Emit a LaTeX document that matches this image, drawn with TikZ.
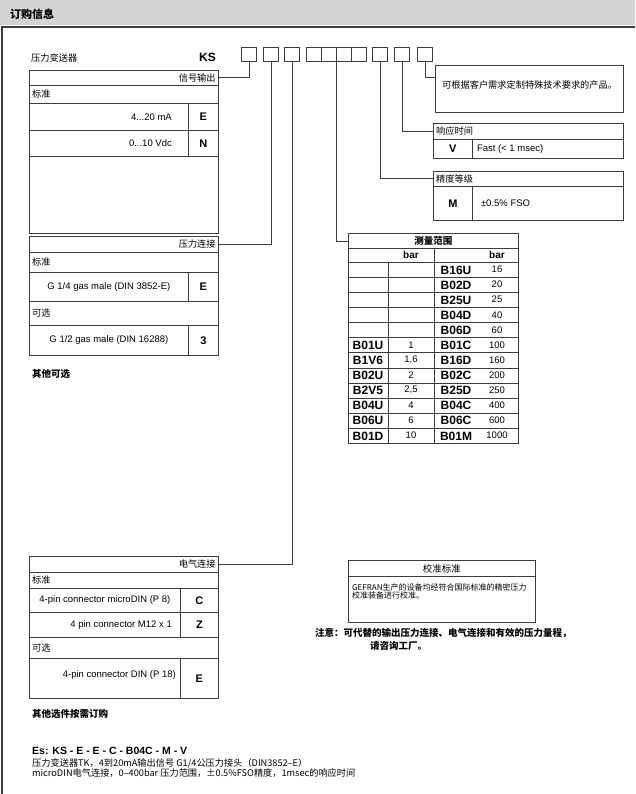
\documentclass[tikz,border=0pt]{standalone}
\usepackage{fontspec}
\setmainfont{Liberation Sans}
\newfontfamily\cjk{Noto Sans CJK SC}
\usetikzlibrary{positioning}
\definecolor{ln}{HTML}{3C3C3C}
\definecolor{hdr}{HTML}{D4D4D4}

\begin{document}
\begin{tikzpicture}[
  x=1pt, y=-1pt,
  row/.style 2 args={draw=ln, line width=0.8pt, anchor=north west, inner sep=0pt,
    minimum width=#1pt, minimum height=#2pt},
  digit/.style={row={15}{14}},
  cn/.style={font=\cjk\fontsize{9.2}{11}\selectfont, inner sep=0pt},
  cns/.style={font=\cjk\fontsize{8}{8.6}\selectfont, inner sep=0pt, align=left},
  cnb/.style={font=\cjk\bfseries\fontsize{9.5}{11}\selectfont, inner sep=0pt},
  en/.style={font=\fontsize{9.5}{11}\selectfont, inner sep=0pt},
  enb/.style={font=\bfseries\fontsize{10}{12}\selectfont, inner sep=0pt},
  code/.style={font=\bfseries\fontsize{11}{13}\selectfont},
  wire/.style={draw=ln, line width=0.8pt}
]
\useasboundingbox (0,0) rectangle (635,794);
% header and frame
\fill[hdr] (0,0) rectangle (635,25);
\node[cnb, font=\cjk\bfseries\fontsize{11}{13}\selectfont, anchor=west] (title) at (10,14) {订购信息};
\draw[ln, line width=1.4pt] (635,27) -- (2,27) -- (2,794);

% order code
\node[cn, anchor=west] (kind) at (31,58) {压力变送器};
\node[font=\bfseries\fontsize{12}{14}\selectfont, anchor=west, inner sep=0pt] (ks) at (199,57) {KS};
\foreach \x [count=\i] in {241,263,284,306,321,336,351,372,394,417}
  \node[digit] (b\i) at (\x,47) {};

% signal output
\node[row={189}{15}] (sigT) at (29,70) {};
\node[cn, anchor=east] at ([xshift=-3pt]sigT.east) {信号输出};
\node[row={189}{18}] (sigS) at (29,85) {};
\node[cn, anchor=west] at ([xshift=3pt]sigS.west) {标准};
\node[row={159}{27}] (sigE) at (29,103) {};
\node[row={30}{27}, code] (sigEc) at (188,103) {E};
\node[en, left=16pt of sigEc] {4...20 mA};
\node[row={159}{26}] (sigN) at (29,130) {};
\node[row={30}{26}, code] (sigNc) at (188,130) {N};
\node[en, left=16pt of sigNc] {0...10 Vdc};
\node[row={189}{77}] (sigX) at (29,156) {};

% pressure port
\node[row={189}{16}] (prsT) at (29,236) {};
\node[cn, anchor=east] at ([xshift=-3pt]prsT.east) {压力连接};
\node[row={189}{20}] (prsS) at (29,252) {};
\node[cn, anchor=west] at ([xshift=3pt]prsS.west) {标准};
\node[row={159}{29}, en] (prsE) at (29,272) {G 1/4 gas male (DIN 3852-E)};
\node[row={30}{29}, code] (prsEc) at (188,272) {E};
\node[row={189}{24}] (prsO) at (29,301) {};
\node[cn, anchor=west] at ([xshift=3pt]prsO.west) {可选};
\node[row={159}{30}, en] (prs3) at (29,325) {G 1/2 gas male (DIN 16288)};
\node[row={30}{30}, code] (prs3c) at (188,325) {3};
\node[cnb, anchor=west] (more) at (32,374) {其他可选};

% electrical connection
\node[row={189}{16}] (eleT) at (29,556) {};
\node[cn, anchor=east] at ([xshift=-3pt]eleT.east) {电气连接};
\node[row={189}{16}] (eleS) at (29,572) {};
\node[cn, anchor=west] at ([xshift=3pt]eleS.west) {标准};
\node[row={151}{24}, en] (eleC) at (29,588) {4-pin connector microDIN (P 8)};
\node[row={38}{24}, code] (eleCc) at (180,588) {C};
\node[row={151}{25}] (eleZ) at (29,612) {};
\node[row={38}{25}, code] (eleZc) at (180,612) {Z};
\node[en, left=8pt of eleZc] {4 pin connector M12 x 1};
\node[row={189}{21}] (eleO) at (29,637) {};
\node[cn, anchor=west] at ([xshift=3pt]eleO.west) {可选};
\node[row={151}{40}] (eleE) at (29,658) {};
\node[row={38}{40}, code] (eleEc) at (180,658) {E};
\node[en, left=4pt of eleEc, yshift=3pt] {4-pin connector DIN (P 18)};
\node[cnb, anchor=west] (extra) at (32,714) {其他选件按需订购};

% custom, response, accuracy
\node[row={188}{47}] (cust) at (435,65) {};
\node[cn, anchor=west] at ([xshift=7pt,yshift=-20pt]cust.north west) {可根据客户需求定制特殊技术要求的产品。};
\coordinate (custIn) at ([yshift=-12pt]cust.north west);
\node[row={190}{16}] (respT) at (433,123) {};
\node[cn, anchor=west] at ([xshift=3pt]respT.west) {响应时间};
\node[row={39}{19}, code] (respV) at (433,139) {V};
\node[row={151}{19}] (respD) at (472,139) {};
\node[en, right=4pt of respV] {Fast (< 1 msec)};
\node[row={190}{15}] (accT) at (433,171) {};
\node[cn, anchor=west] at ([xshift=3pt]accT.west) {精度等级};
\node[row={39}{34}, code] (accM) at (433,186) {M};
\node[row={151}{34}] (accD) at (472,186) {};
\node[en, right=8pt of accM] {±0.5\% FSO};

% range table
\node[row={170}{15}, cnb] (rngT) at (348,233) {测量范围};
\node[row={170}{14}] (rngH) at (348,248) {};
\node[enb] at (411,255) {bar};
\node[enb] at (497,255) {bar};
\foreach \lc/\lv/\rc/\rv [count=\i] in {{}/{}/B16U/16, {}/{}/B02D/20, {}/{}/B25U/25,
    {}/{}/B04D/40, {}/{}/B06D/60, B01U/1/B01C/100, B1V6/{1,6}/B16D/160,
    B02U/2/B02C/200, B2V5/{2,5}/B25D/250, B04U/4/B04C/400, B06U/6/B06C/600,
    B01D/10/B01M/1000} {
  \node[row={170}{15.08}] (rw\i) at (348,{262+(\i-1)*15.08}) {};
  \node[code, font=\bfseries\fontsize{12}{13}\selectfont, inner sep=0pt] at (368,{270+(\i-1)*15.08}) {\lc};
  \node[en] at (411,{269.5+(\i-1)*15.08}) {\lv};
  \node[code, font=\bfseries\fontsize{12}{13}\selectfont, inner sep=0pt] at (456,{270+(\i-1)*15.08}) {\rc};
  \node[en] at (497,{269.5+(\i-1)*15.08}) {\rv};
}
\draw[wire] ([xshift=40pt]rw1.north west) -- ([xshift=40pt]rw12.south west);
\draw[wire] ([xshift=86pt]rngH.north west) -- ([xshift=86pt]rw12.south west);

% calibration
\node[row={187}{16}, cn, font=\cjk\fontsize{9.5}{11}\selectfont] (calT) at (348,560) {校准标准};
\node[row={187}{46}] (calB) at (348,576) {};
\node[cns, anchor=north west] at ([xshift=4pt,yshift=-7pt]calB.north west)
  {GEFRAN生产的设备均经符合国际标准的精密压力\\校准装备进行校准。};
\node[cnb, anchor=west] (note) at (315,633) {注意：可代替的输出压力连接、电气连接和有效的压力量程，};
\node[cnb, anchor=west] (note2) at (370,646) {请咨询工厂。};

% example
\node[enb, font=\bfseries\fontsize{10.5}{12}\selectfont, anchor=west] (ex) at (32,751) {Es: KS - E - E - C - B04C - M - V};
\node[cns, font=\cjk\fontsize{9.2}{10.5}\selectfont, anchor=north west] (exTxt) at (32,758)
  {压力变送器TK，4到20mA输出信号 G1/4公压力接头（DIN3852–E）\\microDIN电气连接，0–400bar 压力范围，±0.5\%FSO精度，1msec的响应时间};

% connectors
\draw[wire] (b1.south) |- (sigT.east);
\draw[wire] (b2.south) |- (prsT.east);
\draw[wire] (b3.south) |- (eleT.east);
\draw[wire] (b5.south east) |- (rngT.west);
\draw[wire] (b8.south) |- (accT.west);
\draw[wire] (b9.south) |- (respT.west);
\draw[wire] (b10.south) |- (custIn);
\end{tikzpicture}
\end{document}
